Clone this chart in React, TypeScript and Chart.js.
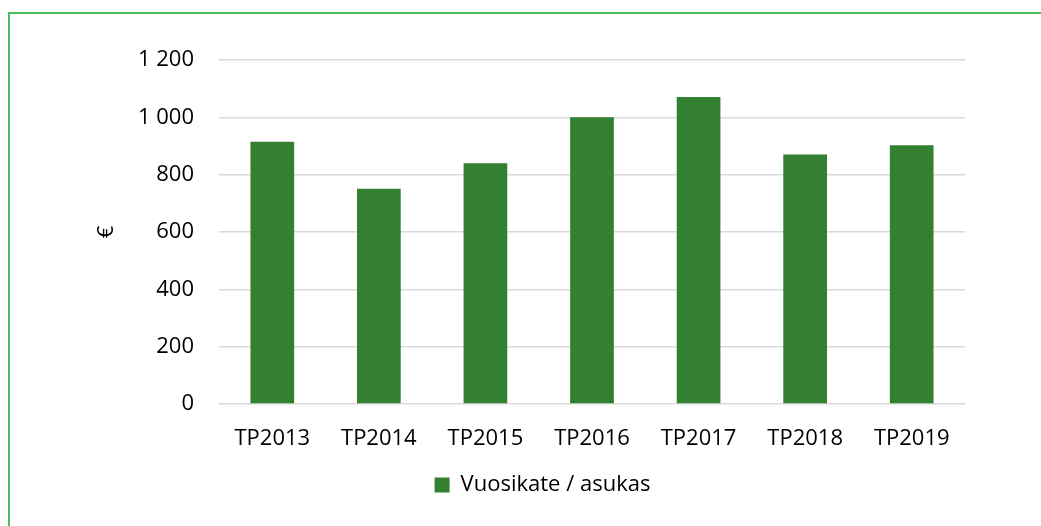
import React, { useEffect, useRef } from "react";
import { Chart, registerables } from "chart.js";

Chart.register(...registerables);

const categories = ["TP2013", "TP2014", "TP2015", "TP2016", "TP2017", "TP2018", "TP2019"];
const values = [915, 751, 840, 1000, 1071, 870, 903];
const seriesLabel = "Vuosikate / asukas";
const yTitle = "€";

const FONT = "'Open Sans', sans-serif";

const legendShift = {
  id: "legendShift",
  afterLayout(chart: any) {
    if (chart.legend) {
      chart.legend.left += 60;
      chart.legend.right += 60;
    }
  },
};

export default function App() {
  const ref = useRef<HTMLCanvasElement | null>(null);

  useEffect(() => {
    if (!ref.current) return;
    const chart = new Chart(ref.current, {
      type: "bar",
      data: {
        labels: categories,
        datasets: [
          {
            label: seriesLabel,
            data: values,
            backgroundColor: "#338030",
            borderWidth: 0,
            barPercentage: 0.41,
            categoryPercentage: 1,
          },
        ],
      },
      plugins: [legendShift],
      options: {
        responsive: false,
        animation: false,
        layout: { padding: { left: 0, right: 76, top: 60, bottom: 20 } },
        plugins: {
          tooltip: { enabled: false },
          legend: {
            position: "bottom",
            labels: {
              boxWidth: 15,
              boxHeight: 15,
              color: "#000",
              font: { family: FONT, size: 22 },
              padding: 6,
            },
          },
        },
        scales: {
          x: {
            grid: { display: false },
            border: { display: false },
            ticks: {
              color: "#000",
              font: { family: FONT, size: 22 },
              padding: 14,
              maxRotation: 0,
            },
            afterFit: (s: any) => {
              s.height = 64;
            },
          },
          y: {
            min: 0,
            max: 1200,
            grid: { color: "#d9d9d9", lineWidth: 1.5, drawTicks: false },
            border: { display: false },
            ticks: {
              stepSize: 200,
              color: "#000",
              font: { family: FONT, size: 22 },
              padding: 25,
              callback: (v: any) => {
                const n = Number(v);
                return n >= 1000 ? Math.floor(n / 1000) + " " + String(n % 1000).padStart(3, "0") : String(n);
              },
            },
            title: {
              display: true,
              text: yTitle,
              color: "#000",
              font: { family: FONT, size: 22 },
              padding: { top: 94, bottom: 0 },
            },
            afterFit: (s: any) => {
              s.width = 219;
            },
          },
        },
      },
    });
    return () => chart.destroy();
  }, []);

  return (
    <div
      style={{
        position: "fixed",
        left: 0,
        top: 0,
        width: 1041,
        height: 526,
        overflow: "hidden",
        background: "#fff",
      }}
    >
      <div
        style={{
          position: "absolute",
          left: 8,
          top: 12,
          width: 1100,
          height: 600,
          border: "2px solid #4cbb5a",
        }}
      />
      <canvas
        ref={ref}
        width={1041}
        height={526}
        style={{ position: "absolute", left: 0, top: 0, width: 1041, height: 526 }}
      />
    </div>
  );
}
